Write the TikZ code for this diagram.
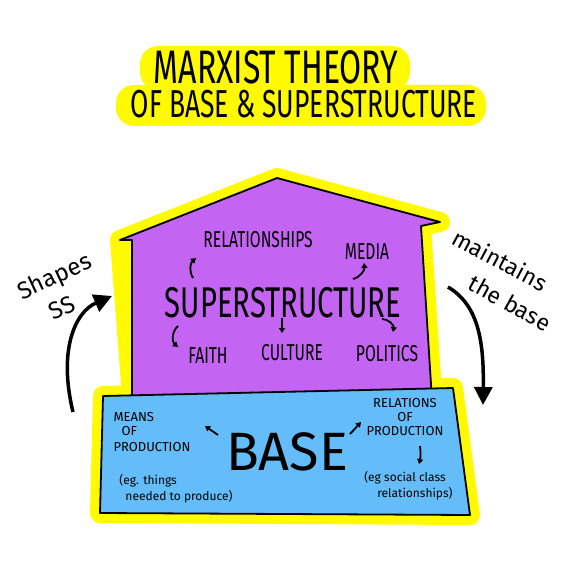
\documentclass[tikz,border=0pt]{standalone}
\usepackage{fontspec}
\usetikzlibrary{arrows.meta,calc}

\newfontfamily\handfont[FakeStretch=0.68]{Fira Sans}
\newfontfamily\wideface{Fira Sans}
\newcommand\fsz[2]{\fontsize{#1}{#2}\selectfont}

\definecolor{ssviolet}{RGB}{196,100,242}
\definecolor{baseblue}{RGB}{100,188,248}
\definecolor{marker}{RGB}{255,250,0}

\tikzset{
  tagtext/.style={font=\handfont\fsz{23}{23}, inner sep=0pt},
  note/.style={font=\wideface\fsz{13}{16}, inner sep=0pt, align=center},
  eg/.style={font=\wideface\fsz{12}{16}, inner sep=0pt, align=center},
  hook/.style={line width=1.8pt, -{Triangle[length=5pt,width=6pt]}},
  swoop/.style={line width=3.5pt, -{Triangle[length=18pt,width=18pt]}},
}

\begin{document}
\begin{tikzpicture}[x=1pt,y=-1pt]
  \useasboundingbox (0,0) rectangle (564,564);

  % title with highlighter
  \fill[marker, rounded corners=18] (140,46) rectangle (410,90);
  \fill[marker, rounded corners=18] (116,85) rectangle (486,126);
  \node[font=\handfont\fsz{47}{47}, inner sep=0pt] (ttl1) at (276,67) {MARXIST THEORY};
  \node[font=\handfont\fsz{39}{39}, inner sep=0pt] (ttl2) at (304,104) {OF BASE \& SUPERSTRUCTURE};

  % yellow edges first, then the two blocks
  \draw[marker, line width=20pt, line join=round]
    (120,240) -- (277,178) -- (440,222) -- (421,226) -- (432,392) -- (132,396) -- cycle;
  \draw[marker, line width=20pt, line join=round]
    (103,396) -- (453,388) -- (470,515) -- (100,513) -- cycle;
  \draw[fill=ssviolet, line width=1.8pt, line join=round]
    (132,400) -- (132,240) -- (120,240) -- (277,178) -- (440,222) -- (421,226) -- (432,400);
  \draw[fill=baseblue, line width=1.8pt, line join=round]
    (103,396) -- (453,388) -- (470,515) -- (100,513) -- cycle;

  % superstructure
  \node[font=\handfont\fsz{43}{43}, inner sep=0pt] (ss) at (283,303) {SUPERSTRUCTURE};
  \foreach \n/\x/\y/\t in {rel/258/240/RELATIONSHIPS, media/367/252/MEDIA,
      faith/208/356/FAITH, cult/292/353/CULTURE, pol/387/354/POLITICS}
    \node[tagtext] (\n) at (\x,\y) {\t};

  \draw[hook] ($(ss)+(-90,-25)$) to[bend left=40] ($(rel)+(-62,18)$);
  \draw[hook] ($(ss)+(70,-24)$) to[bend right=40] ($(media)+(-3,11)$);
  \draw[hook] ($(ss)+(-105,23)$) to[bend right=50] ($(faith)+(-30,-9)$);
  \draw[hook] ($(ss)+(-1,15)$) -- ($(cult)+(-10,-20)$);
  \draw[hook] ($(ss)+(99,16)$) to[bend left=50] ($(pol)+(6,-22)$);

  % base
  \node[font=\wideface\fsz{54}{54}, inner sep=0pt] (base) at (287,452) {BASE};
  \node[note, align=left] (means) at (152,432) {MEANS\\[-2pt]\hspace{8pt}OF\\PRODUCTION};
  \node[eg, align=left] (eg1) at (176,489) {(eg. things\\\hspace{6pt}needed to produce)};
  \node[note] (relp) at (405,417) {RELATIONS\\[-2pt]OF\\[-2pt]PRODUCTION};
  \node[eg] (eg2) at (405,486) {(eg social class\\\hspace{20pt}relationships)};

  \draw[hook] ($(base)+(-69,-17)$) -- ($(base)+(-82,-26)$);
  \draw[hook] ($(base)+(63,-18)$) -- ($(base)+(74,-30)$);
  \draw[hook] ($(relp)+(15,29)$) to[bend left=10] ($(eg2)+(14,-22)$);

  % side arrows
  \coordinate (lfoot) at (73,412);
  \coordinate (lhead) at (112,296);
  \coordinate (rfoot) at (448,287);
  \coordinate (rhead) at (483,405);
  \draw[swoop] (lfoot) .. controls (58,350) and (75,312) .. (lhead);
  \draw[swoop] (rfoot) .. controls (478,305) and (484,340) .. (rhead);

  \node[font=\wideface\fsz{24}{24}, inner sep=0pt, rotate=25] (shp) at (55,278) {Shapes};
  \node[font=\wideface\fsz{24}{24}, inner sep=0pt, rotate=25] (shss) at (62,308) {SS};
  \node[font=\wideface\fsz{23}{23}, inner sep=0pt, rotate=-28] (mnt) at (500,260) {maintains};
  \node[font=\wideface\fsz{23}{23}, inner sep=0pt, rotate=-29] (tbs) at (510,303) {the base};
\end{tikzpicture}
\end{document}
